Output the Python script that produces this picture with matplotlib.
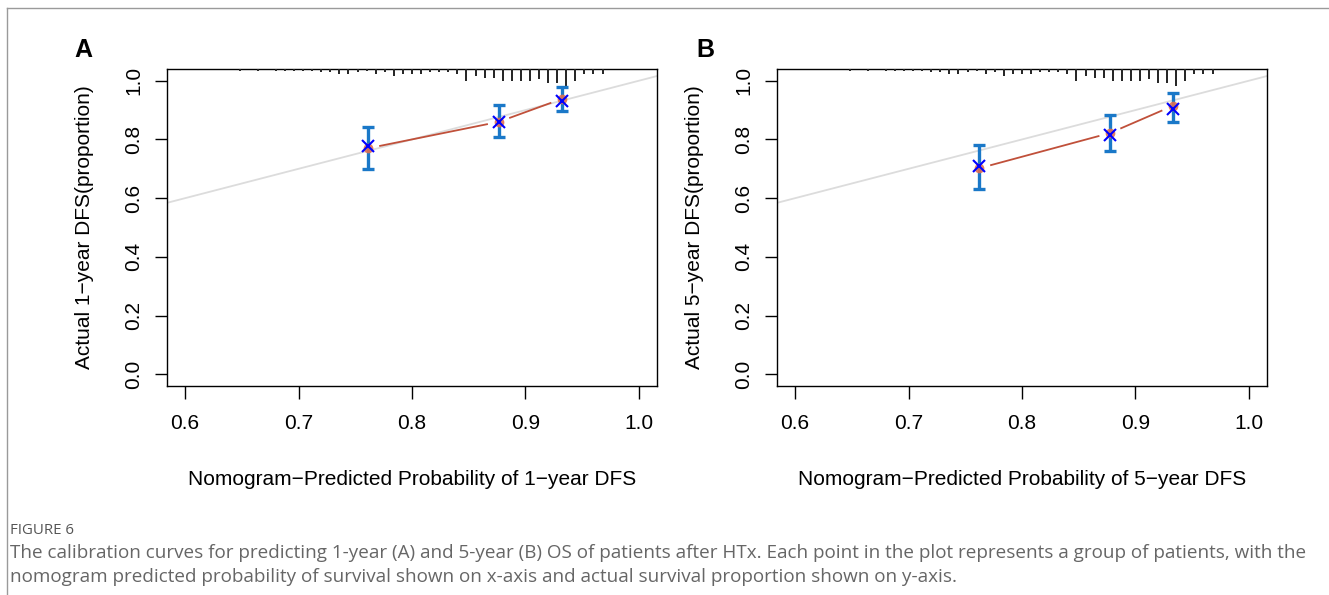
import numpy as np
import matplotlib
matplotlib.use("Agg")
import matplotlib.pyplot as plt
from matplotlib.lines import Line2D
import matplotlib.transforms as mtransforms

# ---------------- data ----------------
x_ticks = [0.6, 0.7, 0.8, 0.9, 1.0]
y_ticks = [0.0, 0.2, 0.4, 0.6, 0.8, 1.0]

# Panel A (1-year DFS)
a_pred = [0.7615, 0.8765, 0.9320]
a_obs = [0.770, 0.860, 0.938]
a_corr = [0.776, 0.858, 0.932]
a_lower = [0.699, 0.807, 0.898]
a_upper = [0.841, 0.918, 0.977]

# Panel B (5-year DFS)
b_pred = [0.7625, 0.8777, 0.9327]
b_obs = [0.702, 0.822, 0.914]
b_corr = [0.708, 0.814, 0.904]
b_lower = [0.631, 0.762, 0.861]
b_upper = [0.782, 0.884, 0.958]

# rug of predicted probabilities (relative frequencies)
rug_x = [0.648, 0.664, 0.680, 0.688, 0.696, 0.704, 0.712, 0.720, 0.728, 0.736,
         0.744, 0.752, 0.760, 0.768, 0.776, 0.784, 0.792, 0.800, 0.808, 0.816,
         0.824, 0.832, 0.840, 0.848, 0.856, 0.864, 0.872, 0.880, 0.888, 0.896,
         0.904, 0.912, 0.920, 0.928, 0.936, 0.944, 0.952, 0.960, 0.968]
rug_n = [1, 1, 1, 1, 1, 1, 1, 2, 2, 3,
         3, 2, 1, 3, 2, 4, 3, 3, 3, 2,
         2, 2, 3, 7, 4, 5, 5, 7, 7, 7,
         7, 6, 8, 8, 10, 7, 3, 3, 3]

xlabels = ["Nomogram\u2212Predicted Probability of 1\u2212year DFS",
           "Nomogram\u2212Predicted Probability of 5\u2212year DFS"]
ylabels = ["Actual 1\u2212year DFS(proportion)",
           "Actual 5\u2212year DFS(proportion)"]
panel_letters = ["A", "B"]

caption_title = "FIGURE 6"
caption_l1 = ("The calibration curves for predicting 1-year (A) and 5-year (B) OS of patients after HTx. "
              "Each point in the plot represents a group of patients, with the")
caption_l2 = ("nomogram predicted probability of survival shown on x-axis and actual survival "
              "proportion shown on y-axis.")

# ---------------- figure ----------------
W, H, DPI = 1329, 595, 100
fig = plt.figure(figsize=(W / DPI, H / DPI), dpi=DPI)
plt.rcParams['font.family'] = ['Liberation Sans', 'DejaVu Sans']

ax_w = 490 / W
ax_h = (386 - 69) / H
ax_b = 1 - 386 / H
lefts = [167 / W, 777 / W]

line_red = '#c0503a'
bar_blue = '#1a78c8'
pt_orange = '#e07050'
FS = 15

panels = [
    (a_pred, a_obs, a_corr, a_lower, a_upper),
    (b_pred, b_obs, b_corr, b_lower, b_upper),
]

for i, (pred, obs, corr, lo, up) in enumerate(panels):
    ax = fig.add_axes([lefts[i], ax_b, ax_w, ax_h])
    ax.set_xlim(0.584, 1.016)
    ax.set_ylim(-0.04, 1.04)
    ax.set_xticks(x_ticks)
    ax.set_xticklabels([f"{v:.1f}" for v in x_ticks])
    ax.set_yticks(y_ticks)
    ax.set_yticklabels([f"{v:.1f}" for v in y_ticks], rotation=90, va='center')
    ax.tick_params(axis='both', direction='out', length=9, width=1.0,
                   labelsize=FS, colors='black')
    ax.tick_params(axis='x', pad=11)
    ax.tick_params(axis='y', pad=8)
    for s in ax.spines.values():
        s.set_linewidth(1.0)
        s.set_color('black')

    # ideal line
    ax.axline((0, 0), slope=1, color='#dcdcdc', lw=1.3, zorder=1)

    # rug at top
    px_per_count = 1.7
    unit = px_per_count / (ax_h * H)
    trans = mtransforms.blended_transform_factory(ax.transData, ax.transAxes)
    ax.vlines(rug_x, [1 - n * unit for n in rug_n], 1.0, transform=trans,
              colors='#222222', lw=1.4, zorder=3)

    # red connecting line with gaps (type = "b")
    fig.canvas.draw()
    disp = ax.transData.transform(np.column_stack([pred, obs]))
    gap = 12.0
    inv = ax.transData.inverted()
    for k in range(len(pred) - 1):
        p0, p1 = disp[k], disp[k + 1]
        d = p1 - p0
        L = np.hypot(*d)
        u = d / L
        q0 = inv.transform(p0 + u * gap)
        q1 = inv.transform(p1 - u * gap)
        ax.plot([q0[0], q1[0]], [q0[1], q1[1]], color=line_red, lw=1.3, zorder=2)

    # error bars
    obs_a = np.array(obs)
    yerr = np.vstack([obs_a - np.array(lo), np.array(up) - obs_a])
    ax.errorbar(pred, obs, yerr=yerr, fmt='none', ecolor=bar_blue,
                elinewidth=2.4, capsize=4.2, capthick=2.4, zorder=4)
    ax.plot(pred, obs, 'o', color=pt_orange, ms=7, mec='none', alpha=0.9, zorder=5)
    ax.plot(pred, corr, 'x', color='#0000ff', ms=8, mew=1.5, zorder=6)

    ax.set_xlabel(xlabels[i], fontsize=FS, labelpad=27)
    ax.set_ylabel(ylabels[i], fontsize=FS, labelpad=22)

    fig.text((83 + i * 622) / W, 1 - 50 / H, panel_letters[i], fontsize=18,
             fontweight='bold', ha='center', va='center')

# caption
cap_font = ['Open Sans', 'DejaVu Sans']
fig.text(10 / W, 1 - 530 / H, caption_title, fontsize=10.8, color='#555555',
         family=cap_font, ha='left', va='center')
fig.text(10 / W, 1 - 553 / H, caption_l1, fontsize=13.6, color='#666666',
         family=cap_font, ha='left', va='center')
fig.text(10 / W, 1 - 577 / H, caption_l2, fontsize=13.6, color='#666666',
         family=cap_font, ha='left', va='center')

# frame lines (left and top)
fig.add_artist(Line2D([7 / W, 7 / W], [0, 1 - 8 / H], transform=fig.transFigure,
                      color='#9a9a9a', lw=1.0))
fig.add_artist(Line2D([7 / W, 1], [1 - 8 / H, 1 - 8 / H], transform=fig.transFigure,
                      color='#9a9a9a', lw=1.0))

fig.savefig('out.png', dpi=DPI)
